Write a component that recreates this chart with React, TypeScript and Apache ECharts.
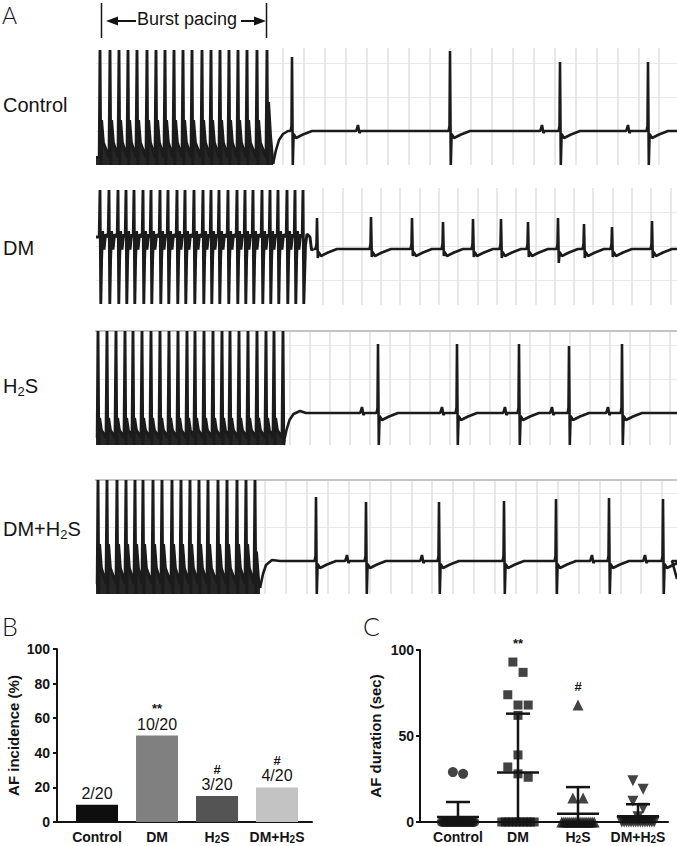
import React, { useEffect, useRef } from "react";
import * as echarts from "echarts";

type Pt = [number, number];

// ================= Panel A: ECG recordings (time in ms, amplitude in mV above trace floor) =================
// Control
const controlBurstTimes = [40, 140, 230, 320, 410, 510, 600, 690, 780, 870, 960, 1060, 1150, 1240, 1330, 1420, 1510, 1610, 1710];
const controlBurstLevels = [2.3, 0, 0.9, 0.15]; // spike top, spike bottom, after-potential peak, trough
const controlBurstTail: Pt[] = [[1726, 1.26], [1745, 0.6], [1770, 0.02]];
const controlRecovery: Pt[] = [[1770, 0.02], [1800, 0.3], [1830, 0.5], [1870, 0.62], [1920, 0.68]];
const controlBaseline = 0.68;
const controlBeatTimes = [1960, 3540, 4640, 5520];
const controlBeatPeaks = [2.16, 2.28, 2.06, 2.06];
const controlBeatTroughs = [0, 0, 0, 0];
const controlPWaves = [2620, 4460, 5320];
const controlEnd: Pt[] = [[5810, 0.68]];

// DM
const dmBurstTimes = [40, 130, 220, 300, 380, 470, 550, 640, 720, 810, 890, 980, 1070, 1150, 1230, 1320, 1410, 1490, 1570, 1660, 1740, 1820, 1910, 1990, 2070];
const dmBurstLevels = [2.3, 0.02, 1.36]; // spike top, spike bottom, baseline during pacing
const dmBurstTail: Pt[] = [[2095, 1.2], [2110, 1.42], [2140, 1.36], [2155, 1.1], [2175, 1.12]];
const dmBaseline = 1.12;
const dmBeatTimes = [2210, 2750, 3160, 3470, 3770, 4050, 4320, 4620, 4880, 5160, 5560];
const dmBeatPeaks = [1.74, 1.76, 1.74, 1.66, 1.72, 1.72, 1.66, 1.74, 1.62, 1.56, 1.68];
const dmBeatTroughs = [0.94, 0.96, 0.98, 0.98, 0.96, 0.94, 0.96, 0.84, 0.94, 0.96, 0.94];
const dmPWaves: number[] = [];
const dmEnd: Pt[] = [[5810, 1.12]];

// H2S
const h2sBurstTimes = [20, 110, 200, 290, 370, 460, 550, 640, 730, 820, 910, 990, 1080, 1170, 1260, 1340, 1430, 1520, 1610, 1700, 1780, 1870];
const h2sBurstLevels = [2.28, 0, 0.54, 0.14];
const h2sBurstTail: Pt[] = [[1885, 0.12]];
const h2sRecovery: Pt[] = [[1885, 0.12], [1905, 0.3], [1935, 0.5], [1975, 0.62], [2040, 0.68], [2100, 0.64]];
const h2sBaseline = 0.64;
const h2sBeatTimes = [2820, 3610, 4230, 4730, 5260];
const h2sBeatPeaks = [2.02, 2.02, 2.02, 1.98, 2.02];
const h2sBeatTroughs = [0, 0, 0, 0, 0];
const h2sPWaves = [2660, 3460, 4090, 4560, 5120];
const h2sEnd: Pt[] = [[5810, 0.64]];

// DM + H2S
const dmh2sBurstTimes = [20, 110, 210, 300, 390, 470, 570, 660, 760, 850, 940, 1030, 1120, 1220, 1310, 1410, 1500, 1590];
const dmh2sBurstLevels = [2.28, 0, 1.0, 0.2];
const dmh2sBurstTail: Pt[] = [[1605, 0.85], [1625, 0.3], [1640, 0.12]];
const dmh2sRecovery: Pt[] = [[1640, 0.12], [1670, 0.4], [1700, 0.58], [1760, 0.68], [1840, 0.66]];
const dmh2sBaseline = 0.66;
const dmh2sBeatTimes = [2200, 2700, 3430, 4080, 4600, 5130, 5670];
const dmh2sBeatPeaks = [1.94, 1.84, 1.84, 1.86, 1.9, 1.92, 1.9];
const dmh2sBeatTroughs = [0, 0, 0, 0, 0, 0, 0];
const dmh2sPWaves = [2510, 3260, 4960, 5490];
const dmh2sEnd: Pt[] = [[5760, 0.66], [5810, 0.3]];

const traceNames = ["Control", "DM", "H2S", "DM+H2S"];

// ================= Panel B: AF incidence =================
const groups = ["Control", "DM", "H2S", "DM+H2S"];
const afCounts = [2, 10, 3, 4];
const afTotal = 20;
const incidenceMarks = ["", "**", "#", "#"];
const barColors = ["#0e0e0e", "#808080", "#545454", "#c3c3c3"];

// ================= Panel C: AF duration (sec), one value per animal =================
const durationControl = [29, 28, 0, 0, 0, 0, 0, 0, 0, 0, 0, 0, 0, 0, 0, 0, 0, 0, 0, 0];
const durationDM = [93, 87, 74, 68, 68, 62, 39, 32, 28, 26, 0, 0, 0, 0, 0, 0, 0, 0, 0, 0];
const durationH2S = [68, 14, 14, 0, 0, 0, 0, 0, 0, 0, 0, 0, 0, 0, 0, 0, 0, 0, 0, 0];
const durationDMH2S = [24, 19, 12, 8, 3, 0, 0, 0, 0, 0, 0, 0, 0, 0, 0, 0, 0, 0, 0, 0];
const durationMarks = ["", "**", "#", ""];

// ---------------- builders ----------------
function fillBurst(times: number[], levels: number[], tail: Pt[]): Pt[] {
  const [top, bottom, peak, trough] = levels;
  const pts: Pt[] = [[0, trough]];
  times.forEach((t, i) => {
    pts.push([t - 8, trough], [t, top], [t + 8, bottom]);
    const next = times[i + 1];
    if (next !== undefined) {
      pts.push([t + 16, peak], [t + 34, trough + 0.4 * (peak - trough)], [next - 10, trough]);
    }
  });
  return pts.concat(tail);
}

function biphasicBurst(times: number[], levels: number[], tail: Pt[]): Pt[] {
  const [top, bottom, base] = levels;
  const pts: Pt[] = [[0, base]];
  times.forEach((t, i) => {
    pts.push([t - 8, base], [t, top], [t + 8, bottom]);
    const next = times[i + 1];
    if (next !== undefined) {
      pts.push([t + 16, base - 0.45], [t + 26, base + 0.12], [t + 40, base - 0.25], [t + 55, base + 0.05], [next - 8, base]);
    }
  });
  return pts.concat(tail);
}

function rhythm(start: Pt[], beats: number[], peaks: number[], troughs: number[], pWaves: number[], base: number, end: Pt[]): Pt[] {
  const evs = beats
    .map((t, i) => ({ t, qrs: true, i }))
    .concat(pWaves.map((t, i) => ({ t, qrs: false, i })))
    .sort((a, b) => a.t - b.t);
  const pts: Pt[] = start.slice();
  evs.forEach((e) => {
    const t = e.t;
    if (e.qrs) {
      pts.push(
        [t - 14, base], [t - 5, base + 0.1], [t, peaks[e.i]], [t + 8, troughs[e.i]],
        [t + 16, base - 0.06], [t + 40, base - 0.14], [t + 110, base - 0.07], [t + 200, base]
      );
    } else {
      pts.push([t - 18, base], [t, base + 0.12], [t + 14, base - 0.04], [t + 26, base]);
    }
  });
  return pts.concat(end);
}

function mean(a: number[]) {
  return a.reduce((s, v) => s + v, 0) / a.length;
}
function sd(a: number[]) {
  const m = mean(a);
  return Math.sqrt(a.reduce((s, v) => s + (v - m) * (v - m), 0) / (a.length - 1));
}

// scatter-dot layout: rows of close values spread sideways, zeros spread across the band
function swarm(values: number[], center: number): Pt[] {
  const out: Pt[] = [];
  const nz = values.filter((v) => v !== 0).sort((a, b) => b - a);
  const rows: number[][] = [];
  nz.forEach((v) => {
    const row = rows[rows.length - 1];
    if (row && row[0] - v < 6.5) row.push(v);
    else rows.push([v]);
  });
  rows.forEach((row) => {
    row.forEach((v, j) => out.push([center + (j - (row.length - 1) / 2) * 0.17, v]));
  });
  const zeros = values.length - nz.length;
  for (let j = 0; j < zeros; j++) {
    out.push([center - 0.27 + (0.54 * j) / Math.max(1, zeros - 1), 0]);
  }
  return out;
}

const FONT = "'Liberation Sans', Arial, Helvetica, sans-serif";
const INK = "#141414";

const traceLayout = [
  { top: 48, height: 117, yMax: 2.34, border: false, vStart: 1870, vStep: 209, hStart: 0.68, labelY: 105 },
  { top: 188, height: 117, yMax: 2.34, border: false, vStart: 2270, vStep: 193, hStart: 0.5, labelY: 248 },
  { top: 331, height: 114, yMax: 2.28, border: true, vStart: 1940, vStep: 200, hStart: 0.64, labelY: 386 },
  { top: 480, height: 114, yMax: 2.28, border: true, vStart: 1690, vStep: 209, hStart: 0.66, labelY: 529 },
];

function richName(name: string, tag: string) {
  return "{" + tag + "|" + name.split("2").join("}{s|2}{" + tag + "|") + "}";
}

function buildOption(): any {
  const traces = [
    {
      burst: fillBurst(controlBurstTimes, controlBurstLevels, controlBurstTail),
      filled: true,
      rhythm: rhythm(controlRecovery, controlBeatTimes, controlBeatPeaks, controlBeatTroughs, controlPWaves, controlBaseline, controlEnd),
    },
    {
      burst: biphasicBurst(dmBurstTimes, dmBurstLevels, dmBurstTail),
      filled: false,
      rhythm: rhythm([dmBurstTail[dmBurstTail.length - 1]], dmBeatTimes, dmBeatPeaks, dmBeatTroughs, dmPWaves, dmBaseline, dmEnd),
    },
    {
      burst: fillBurst(h2sBurstTimes, h2sBurstLevels, h2sBurstTail),
      filled: true,
      rhythm: rhythm(h2sRecovery, h2sBeatTimes, h2sBeatPeaks, h2sBeatTroughs, h2sPWaves, h2sBaseline, h2sEnd),
    },
    {
      burst: fillBurst(dmh2sBurstTimes, dmh2sBurstLevels, dmh2sBurstTail),
      filled: true,
      rhythm: rhythm(dmh2sRecovery, dmh2sBeatTimes, dmh2sBeatPeaks, dmh2sBeatTroughs, dmh2sPWaves, dmh2sBaseline, dmh2sEnd),
    },
  ];

  const grid: any[] = [];
  const xAxis: any[] = [];
  const yAxis: any[] = [];
  const series: any[] = [];
  const graphic: any[] = [];

  traces.forEach((tr, k) => {
    const L = traceLayout[k];
    grid.push({ left: 96, top: L.top, width: 581, height: L.height });
    const vLines: number[] = [];
    for (let v = L.vStart; v < 5810; v += L.vStep) vLines.push(v);
    const hLines: number[] = [];
    for (let h = L.hStart; h < L.yMax - 0.05; h += 0.68) hLines.push(+h.toFixed(2));
    xAxis.push({
      type: "value", gridIndex: k, min: 0, max: 5810, position: "top",
      axisLine: { show: L.border, onZero: false, lineStyle: { color: "#c4c4c4", width: 2 } },
      axisTick: { show: false, customValues: vLines },
      axisLabel: { show: false },
      splitLine: { show: true, lineStyle: { color: "#e1e1e1", width: 1.5 } },
    });
    yAxis.push({
      type: "value", gridIndex: k, min: 0, max: L.yMax,
      axisLine: { show: false, onZero: false },
      axisTick: { show: false, customValues: hLines },
      axisLabel: { show: false },
      splitLine: { show: true, lineStyle: { color: "#e9e9e9", width: 1 } },
    });
    series.push({
      type: "line", xAxisIndex: k, yAxisIndex: k, data: tr.burst, showSymbol: false, silent: true, z: 3,
      lineStyle: { color: "#1b1b1b", width: 2.9 },
      areaStyle: tr.filled ? { color: "#262626", opacity: 1, origin: "start" } : undefined,
    });
    series.push({
      type: "line", xAxisIndex: k, yAxisIndex: k, data: tr.rhythm, showSymbol: false, silent: true, z: 3,
      lineStyle: { color: "#1b1b1b", width: 2.6 },
    });
    graphic.push({
      type: "text", x: 3, y: L.labelY,
      style: {
        text: richName(traceNames[k], "n"), verticalAlign: "middle", align: "left",
        rich: {
          n: { fontSize: 20, fontFamily: FONT, fill: INK, lineHeight: 24, verticalAlign: "middle" },
          s: { fontSize: 13, fontFamily: FONT, fill: INK, lineHeight: 10, verticalAlign: "bottom" },
        },
      },
    });
  });

  // ---------- Panel B ----------
  const gB = 4;
  grid.push({ left: 57, top: 649, width: 255, height: 173 });
  xAxis.push({
    type: "value", gridIndex: gB, min: -0.667, max: 3.583,
    axisLine: { show: true, onZero: false, lineStyle: { color: INK, width: 2 } },
    axisTick: { show: false },
    splitLine: { show: false },
    axisLabel: {
      customValues: [0, 1, 2, 3], margin: 8,
      formatter: (v: number) => richName(groups[Math.round(v)], "b"),
      rich: {
        b: { fontSize: 14, fontWeight: "bold", fontFamily: FONT, color: INK },
        s: { fontSize: 10, fontWeight: "bold", fontFamily: FONT, color: INK, verticalAlign: "bottom", lineHeight: 10 },
      },
    },
  });
  yAxis.push({
    type: "value", gridIndex: gB, min: 0, max: 100, interval: 20,
    name: "AF incidence (%)", nameLocation: "middle", nameGap: 36,
    nameTextStyle: { fontSize: 15, fontWeight: "bold", fontFamily: FONT, color: INK },
    axisLine: { show: true, onZero: false, lineStyle: { color: INK, width: 2 } },
    axisTick: { show: true, length: 4, lineStyle: { color: INK, width: 2 } },
    axisLabel: { fontSize: 14, fontWeight: "bold", fontFamily: FONT, color: INK, margin: 7 },
    splitLine: { show: false },
  });
  series.push({
    type: "bar", xAxisIndex: gB, yAxisIndex: gB, barWidth: 42, silent: true,
    data: afCounts.map((c, i) => ({ value: [i, (c / afTotal) * 100], itemStyle: { color: barColors[i] } })),
    label: {
      show: true, position: "top", distance: 3,
      formatter: (p: any) => {
        const i = p.dataIndex;
        const txt = "{v|" + afCounts[i] + "/" + afTotal + "}";
        return incidenceMarks[i] ? "{m|" + incidenceMarks[i] + "}\n" + txt : txt;
      },
      rich: {
        m: { fontSize: 13, fontWeight: "bold", fontFamily: FONT, color: INK, lineHeight: 14, align: "center" },
        v: { fontSize: 16, fontFamily: FONT, color: INK, lineHeight: 17, align: "center" },
      },
    },
  });

  // ---------- Panel C ----------
  const gC = 5;
  grid.push({ left: 420, top: 650, width: 248, height: 172 });
  xAxis.push({
    type: "value", gridIndex: gC, min: -0.633, max: 3.5,
    axisLine: { show: true, onZero: false, lineStyle: { color: INK, width: 2 } },
    axisTick: { show: false },
    splitLine: { show: false },
    axisLabel: {
      customValues: [0, 1, 2, 3], margin: 8,
      formatter: (v: number) => richName(groups[Math.round(v)], "b"),
      rich: {
        b: { fontSize: 14, fontWeight: "bold", fontFamily: FONT, color: INK },
        s: { fontSize: 10, fontWeight: "bold", fontFamily: FONT, color: INK, verticalAlign: "bottom", lineHeight: 10 },
      },
    },
  });
  yAxis.push({
    type: "value", gridIndex: gC, min: 0, max: 100, interval: 50,
    name: "AF duration (sec)", nameLocation: "middle", nameGap: 37,
    nameTextStyle: { fontSize: 15, fontWeight: "bold", fontFamily: FONT, color: INK },
    axisLine: { show: true, onZero: false, lineStyle: { color: INK, width: 2 } },
    axisTick: { show: true, length: 4, lineStyle: { color: INK, width: 2 } },
    axisLabel: { fontSize: 14, fontWeight: "bold", fontFamily: FONT, color: INK, margin: 6 },
    splitLine: { show: false },
  });
  const durations = [durationControl, durationDM, durationH2S, durationDMH2S];
  const symbols = [
    { symbol: "circle", size: 10, rotate: 0 },
    { symbol: "rect", size: 9, rotate: 0 },
    { symbol: "triangle", size: 11, rotate: 0 },
    { symbol: "triangle", size: 11, rotate: 180 },
  ];
  durations.forEach((d, i) => {
    series.push({
      type: "scatter", xAxisIndex: gC, yAxisIndex: gC, silent: true, z: 3,
      symbol: symbols[i].symbol, symbolSize: symbols[i].size, symbolRotate: symbols[i].rotate,
      itemStyle: { color: INK },
      data: swarm(d, i),
    });
  });
  series.push({
    type: "custom", xAxisIndex: gC, yAxisIndex: gC, silent: true, z: 5, clip: false,
    data: durations.map((d, i) => [i, mean(d), sd(d), Math.max(...d)]),
    renderItem: (params: any, api: any) => {
      const i = api.value(0), m = api.value(1), s = api.value(2), mx = api.value(3);
      const c = api.coord([i, m]);
      const top = api.coord([i, m + s]);
      const bot = api.coord([i, Math.max(0, m - s)]);
      const half = api.size([0.35, 0])[0];
      const cap = api.size([0.2, 0])[0];
      const stroke = { stroke: INK, lineWidth: 2.5 };
      const children: any[] = [
        { type: "line", shape: { x1: c[0] - half, y1: c[1], x2: c[0] + half, y2: c[1] }, style: stroke },
        { type: "line", shape: { x1: top[0], y1: top[1], x2: bot[0], y2: bot[1] }, style: stroke },
        { type: "line", shape: { x1: top[0] - cap, y1: top[1], x2: top[0] + cap, y2: top[1] }, style: stroke },
      ];
      const mark = durationMarks[params.dataIndex];
      if (mark) {
        const p = api.coord([i, mx]);
        children.push({
          type: "text", x: p[0], y: p[1] - 19,
          style: { text: mark, fill: INK, fontSize: 13, fontWeight: "bold", fontFamily: FONT, align: "center", verticalAlign: "middle" },
        });
      }
      return { type: "group", children };
    },
  });

  // ---------- annotations ----------
  const panelFont = { fontFamily: "Lato, 'Liberation Sans', sans-serif", fontWeight: 300, fill: INK };
  graphic.push(
    { type: "text", x: 2, y: 15, style: { text: "A", fontSize: 23, verticalAlign: "middle", ...panelFont } },
    { type: "text", x: 2, y: 626, style: { text: "B", fontSize: 25, verticalAlign: "middle", ...panelFont } },
    { type: "text", x: 363, y: 626, style: { text: "C", fontSize: 25, verticalAlign: "middle", ...panelFont } },
    { type: "line", shape: { x1: 101.5, y1: 3, x2: 101.5, y2: 38 }, style: { stroke: INK, lineWidth: 1.5 } },
    { type: "line", shape: { x1: 266.5, y1: 3, x2: 266.5, y2: 38 }, style: { stroke: INK, lineWidth: 1.5 } },
    { type: "line", shape: { x1: 116, y1: 21, x2: 136, y2: 21 }, style: { stroke: INK, lineWidth: 2 } },
    { type: "polygon", shape: { points: [[106, 21], [118, 16.5], [118, 25.5]] }, style: { fill: INK } },
    { type: "line", shape: { x1: 241, y1: 21, x2: 256, y2: 21 }, style: { stroke: INK, lineWidth: 2 } },
    { type: "polygon", shape: { points: [[266, 21], [254, 16.5], [254, 25.5]] }, style: { fill: INK } },
    {
      type: "text", x: 187, y: 19,
      style: { text: "Burst pacing", fontSize: 18, fontFamily: FONT, fill: INK, align: "center", verticalAlign: "middle" },
    }
  );

  return { animation: false, backgroundColor: "#ffffff", grid, xAxis, yAxis, series, graphic };
}

export default function App() {
  const ref = useRef<HTMLDivElement>(null);
  useEffect(() => {
    if (!ref.current) return;
    const chart = echarts.init(ref.current, null, { renderer: "svg" });
    chart.setOption(buildOption());
    return () => chart.dispose();
  }, []);
  return (
    <div
      ref={ref}
      style={{ position: "absolute", left: 0, top: 0, width: 677, height: 846, background: "#fff" }}
    />
  );
}
